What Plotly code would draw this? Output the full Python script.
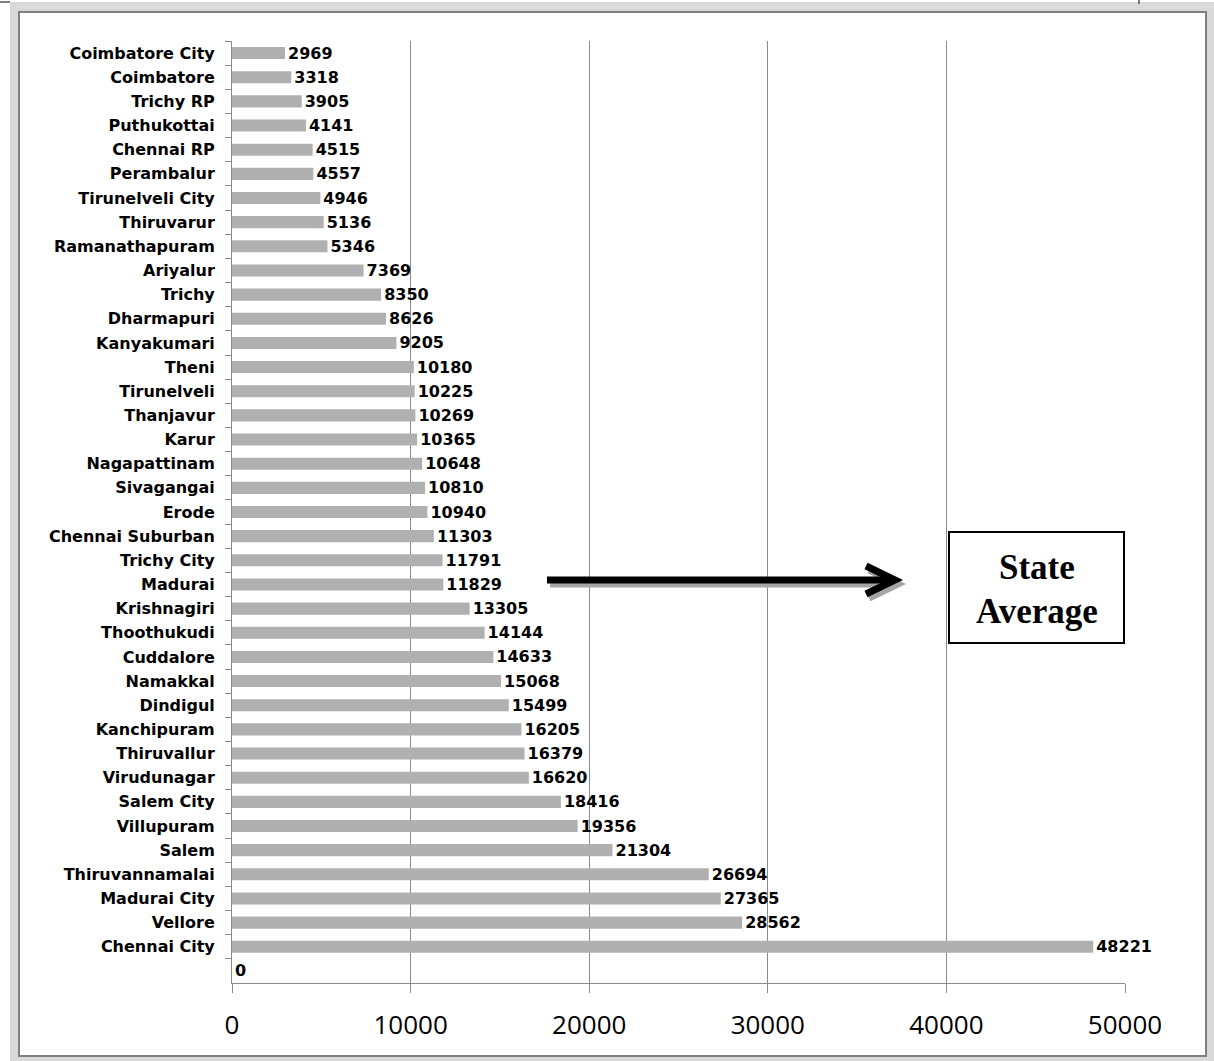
import plotly.graph_objects as go

districts = [
    "Coimbatore City", "Coimbatore", "Trichy RP", "Puthukottai", "Chennai RP",
    "Perambalur", "Tirunelveli City", "Thiruvarur", "Ramanathapuram", "Ariyalur",
    "Trichy", "Dharmapuri", "Kanyakumari", "Theni", "Tirunelveli", "Thanjavur",
    "Karur", "Nagapattinam", "Sivagangai", "Erode", "Chennai Suburban",
    "Trichy City", "Madurai", "Krishnagiri", "Thoothukudi", "Cuddalore",
    "Namakkal", "Dindigul", "Kanchipuram", "Thiruvallur", "Virudunagar",
    "Salem City", "Villupuram", "Salem", "Thiruvannamalai", "Madurai City",
    "Vellore", "Chennai City", " ",
]
values = [
    2969, 3318, 3905, 4141, 4515, 4557, 4946, 5136, 5346, 7369,
    8350, 8626, 9205, 10180, 10225, 10269, 10365, 10648, 10810, 10940,
    11303, 11791, 11829, 13305, 14144, 14633, 15068, 15499, 16205, 16379,
    16620, 18416, 19356, 21304, 26694, 27365, 28562, 48221, 0,
]
x_ticks = [0, 10000, 20000, 30000, 40000, 50000]
box_lines = ["State", "Average"]

W, H = 1214, 1061
L, R, T, B = 232, 89, 41, 78
PW, PH = W - L - R, H - T - B


def px(xp):
    return (xp - L) / PW


def py(yp):
    return 1 - (yp - T) / PH


GRID = "#8a8a8a"

fig = go.Figure()
fig.add_trace(go.Bar(
    y=districts, x=values, orientation="h",
    marker=dict(color="#b0b0b0", line=dict(width=0)),
    width=0.5,
    text=[str(v) for v in values], textposition="outside",
    constraintext="none",
    textfont=dict(family="DejaVu Sans", size=16, color="black", weight="bold"),
    cliponaxis=False,
    hoverinfo="skip",
))

shapes = []
# outer frame
shapes.append(dict(type="rect", xref="paper", yref="paper", layer="below",
                   x0=px(10), x1=px(1214), y0=py(2), y1=py(1061),
                   fillcolor="#d9d9d9", line=dict(width=0)))
shapes.append(dict(type="rect", xref="paper", yref="paper", layer="below",
                   x0=px(19), x1=px(1206), y0=py(12), y1=py(1056),
                   fillcolor="white", line=dict(color="#7f7f7f", width=2)))
# small artifacts at the top edge
shapes.append(dict(type="line", xref="paper", yref="paper", layer="above",
                   x0=px(0), x1=px(10), y0=py(2), y1=py(2),
                   line=dict(color="black", width=1)))
shapes.append(dict(type="line", xref="paper", yref="paper", layer="above",
                   x0=px(1139), x1=px(1139), y0=py(0), y1=py(4),
                   line=dict(color="black", width=1)))

# arrow (shadow then black)
for dx, dy, col in [(3, 4, "#a6a6a6"), (0, 0, "black")]:
    shapes.append(dict(type="line", xref="paper", yref="paper", layer="above",
                       x0=px(547 + dx), x1=px(892 + dx), y0=py(580 + dy), y1=py(580 + dy),
                       line=dict(color=col, width=7)))
    path = "M {} {} L {} {} L {} {}".format(
        px(866 + dx), py(566 + dy), px(895 + dx), py(580 + dy), px(866 + dx), py(594 + dy))
    shapes.append(dict(type="path", xref="paper", yref="paper", layer="above",
                       path=path, line=dict(color=col, width=7)))

# State Average box
shapes.append(dict(type="rect", xref="paper", yref="paper", layer="above",
                   x0=px(949), x1=px(1124), y0=py(532), y1=py(643),
                   fillcolor="white", line=dict(color="black", width=2)))

annotations = []
for txt, yc in zip(box_lines, [567, 611]):
    annotations.append(dict(text=txt, xref="paper", yref="paper",
                            x=px(1036.5), y=py(yc), xanchor="center", yanchor="middle",
                            showarrow=False,
                            font=dict(family="Liberation Serif", size=35, color="black",
                                      weight="bold")))

fig.update_layout(
    width=W, height=H,
    margin=dict(l=L, r=R, t=T, b=B, pad=0),
    paper_bgcolor="white", plot_bgcolor="rgba(0,0,0,0)",
    showlegend=False,
    bargap=0.5,
    shapes=shapes, annotations=annotations,
    xaxis=dict(range=[0, 50000], tickvals=x_ticks, ticktext=[str(t) for t in x_ticks],
               showgrid=True, gridcolor=GRID, gridwidth=1, zeroline=False,
               showline=True, linecolor=GRID, linewidth=1,
               ticks="outside", ticklen=9, tickcolor=GRID,
               ticklabelstandoff=10,
               tickfont=dict(family="Open Sans", size=26, color="black")),
    yaxis=dict(autorange="reversed", type="category",
               showgrid=False, zeroline=False,
               showline=True, linecolor=GRID, linewidth=1,
               ticks="outside", ticklen=6, tickcolor=GRID, tickson="boundaries",
               ticklabelstandoff=13,
               tickfont=dict(family="DejaVu Sans", size=16, color="black", weight="bold")),
)

fig.write_html("out.html",
               config={"displayModeBar": False},
               post_script="document.body.style.margin='0';document.body.style.overflow='hidden';")
